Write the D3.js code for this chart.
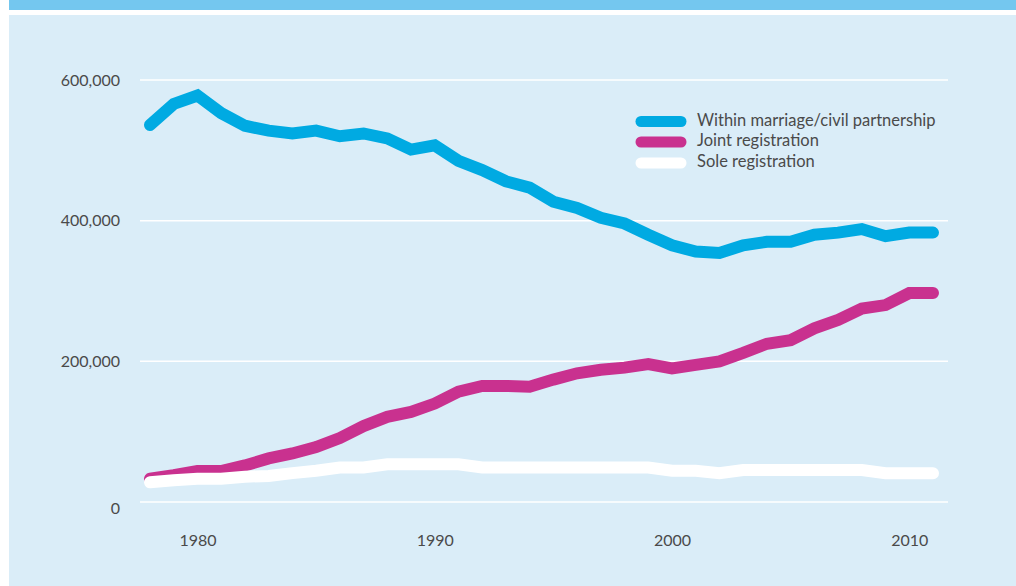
<!DOCTYPE html>
<html>
<head>
<meta charset="utf-8">
<script src="https://cdn.jsdelivr.net/npm/d3@7/dist/d3.min.js"></script>
<style>
  html, body { margin: 0; padding: 0; background: #ffffff; }
  svg { display: block; }
  text { font-family: Lato, "Open Sans", sans-serif; fill: #4a4a4a; }
</style>
</head>
<body>
<svg id="chart" width="1016" height="586"></svg>
<script>
const years = d3.range(1978, 2012);
const withinMarriage = [536000, 566000, 578000, 553000, 535000, 528000, 524000, 528000, 520000, 524000,
  517000, 501000, 507000, 485000, 472000, 456000, 447000, 427000, 418000, 404000,
  396000, 380000, 365000, 356000, 354000, 365000, 370000, 370000, 380000, 383000,
  388000, 378000, 383000, 383000];
const jointRegistration = [33000, 38000, 44000, 44000, 52000, 62000, 69000, 78000, 91000, 108000,
  121000, 128000, 140000, 157000, 165000, 165000, 164000, 174000, 183000, 188000,
  191000, 196000, 190000, 195000, 200000, 212000, 225000, 230000, 247000, 259000,
  275000, 280000, 297000, 297000];
const soleRegistration = [28000, 31000, 33000, 33000, 36000, 37000, 41000, 44500, 49000, 49000,
  53500, 53500, 53500, 53500, 49000, 49000, 49000, 49000, 49000, 49000,
  49000, 49000, 44500, 44500, 41000, 45500, 45500, 45500, 45500, 45500,
  45500, 41000, 41000, 41000];
const seriesNames = ["Within marriage/civil partnership", "Joint registration", "Sole registration"];
const seriesColors = ["#00aae2", "#c9318f", "#ffffff"];
const yTicks = [0, 200000, 400000, 600000];
const xTicks = [1980, 1990, 2000, 2010];

const svg = d3.select("#chart");

// background
svg.append("rect").attr("x", 9).attr("y", 0).attr("width", 1007).attr("height", 10).attr("fill", "#74c7ef");
svg.append("rect").attr("x", 9).attr("y", 15).attr("width", 1007).attr("height", 571).attr("fill", "#daedf8");

const x = d3.scaleLinear().domain([1978, 2011]).range([150, 933]);
const y = d3.scaleLinear().domain([0, 600000]).range([502, 80]);

// gridlines
svg.append("g").selectAll("line").data(yTicks).join("line")
  .attr("x1", 140).attr("x2", 948)
  .attr("y1", d => y(d)).attr("y2", d => y(d))
  .attr("stroke", "#ffffff").attr("stroke-width", 1.5);

// y labels
const fmt = d3.format(",");
svg.append("g").selectAll("text").data(yTicks).join("text")
  .attr("x", 120).attr("y", d => y(d) + (d === 0 ? 5 : -1))
  .attr("text-anchor", "end").attr("dominant-baseline", "central")
  .attr("font-size", 16).text(d => fmt(d));

// x axis labels
const xAxis = d3.axisBottom(x).tickValues(xTicks).tickFormat(d3.format("d")).tickSize(0).tickPadding(0);
const gx = svg.append("g").attr("transform", "translate(0,540)").call(xAxis);
gx.select(".domain").remove();
gx.selectAll("text").attr("font-size", 16).attr("dy", "0.35em")
  .attr("font-family", "Lato, 'Open Sans', sans-serif").attr("fill", "#4a4a4a");

// lines
const line = d3.line().x((d, i) => x(years[i])).y(d => y(d));
[withinMarriage, jointRegistration, soleRegistration].forEach((s, k) => {
  svg.append("path").datum(s).attr("d", line)
    .attr("fill", "none").attr("stroke", seriesColors[k])
    .attr("stroke-width", 12).attr("stroke-linecap", "round").attr("stroke-linejoin", "miter");
});

// legend
const lg = svg.append("g");
const legendY = [121.5, 142, 163];
seriesNames.forEach((n, k) => {
  lg.append("line").attr("x1", 641).attr("x2", 681)
    .attr("y1", legendY[k]).attr("y2", legendY[k])
    .attr("stroke", seriesColors[k]).attr("stroke-width", 11).attr("stroke-linecap", "round");
  lg.append("text").attr("x", 697).attr("y", legendY[k] - 2)
    .attr("dominant-baseline", "central").attr("font-size", 16.5).text(n);
});
</script>
</body>
</html>
